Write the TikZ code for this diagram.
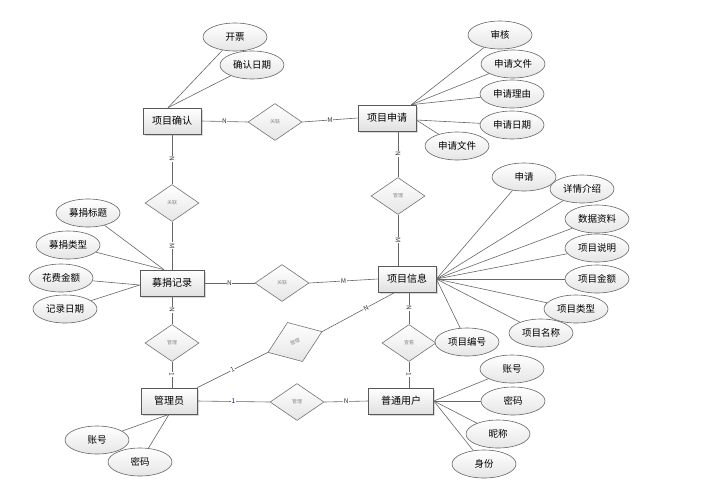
\documentclass[tikz,border=0pt]{standalone}
\usepackage{fontspec}
\setmainfont{Noto Sans CJK SC}
\usetikzlibrary{shapes.geometric,shadows}
\tikzset{
  entity/.style={draw=black!65,line width=0.7pt,top color=white,bottom color=black!12,
    minimum width=58pt,minimum height=26pt,inner sep=1pt,font=\fontsize{10}{10}\selectfont,
    drop shadow={shadow xshift=1.5pt,shadow yshift=-1.5pt,opacity=.3}},
  attr/.style={ellipse,draw=black!60,line width=0.6pt,top color=white,bottom color=black!10,
    minimum width=64pt,minimum height=28pt,inner sep=0pt,font=\fontsize{9.5}{10}\selectfont},
  rel/.style={diamond,draw=black!55,line width=0.6pt,top color=white,bottom color=black!10,
    minimum width=54pt,minimum height=37pt,inner sep=0pt,text=black!45,font=\fontsize{5}{5}\selectfont},
  link/.style={draw=black!60,line width=0.6pt},
  card/.style={fill=white,inner sep=0.6pt,font=\fontsize{6.5}{6.5}\selectfont,text=black!80}
}
\begin{document}
\begin{tikzpicture}[x=1pt,y=-1pt]
\useasboundingbox (0,0) rectangle (715,496);

% entities
\node[entity] (conf) at (172,121) {项目确认};
\node[entity] (apply) at (387,118) {项目申请};
\node[entity,minimum width=64pt] (rec) at (172,283) {募捐记录};
\node[entity] (info) at (407,279) {项目信息};
\node[entity,minimum width=56pt] (admin) at (169,401) {管理员};
\node[entity,minimum width=65pt] (user) at (401,401) {普通用户};

% relations
\node[rel] (r1) at (275,122) {关联};
\node[rel] (r2) at (172,203) {关联};
\node[rel] (r3) at (398,196) {管理};
\node[rel] (r4) at (282,283) {关联};
\node[rel] (r5) at (172,343) {管理};
\node[rel,rotate=21,minimum width=58pt,minimum height=42pt] (r6) at (295,342) {管理};
\node[rel] (r7) at (409,343) {查看};
\node[rel] (r8) at (297,402) {管理};

% attributes
\node[attr] (c1) at (235,37) {开票};
\node[attr] (c2) at (252,65) {确认日期};
\node[attr] (a1) at (500,35) {审核};
\node[attr] (a2) at (513,64) {申请文件};
\node[attr] (a3) at (512,94) {申请理由};
\node[attr] (a4) at (512,125) {申请日期};
\node[attr] (a5) at (457,146) {申请文件};
\node[attr] (i1) at (524,177) {申请};
\node[attr] (i2) at (582,189) {详情介绍};
\node[attr] (i3) at (597,219) {数据资料};
\node[attr] (i4) at (597,248) {项目说明};
\node[attr] (i5) at (597,279) {项目金额};
\node[attr] (i6) at (576,309) {项目类型};
\node[attr] (i7) at (541,333) {项目名称};
\node[attr] (i8) at (467,342) {项目编号};
\node[attr] (e1) at (88,213) {募捐标题};
\node[attr] (e2) at (68,245) {募捐类型};
\node[attr] (e3) at (61,278) {花费金额};
\node[attr] (e4) at (65,309) {记录日期};
\node[attr] (m1) at (97,440) {账号};
\node[attr] (m2) at (140,462) {密码};
\node[attr] (u1) at (512,369) {账号};
\node[attr] (u2) at (513,401) {密码};
\node[attr] (u3) at (498,434) {昵称};
\node[attr] (u4) at (484,464) {身份};

% attribute links
\coordinate (conftop) at ([xshift=-4pt]conf.north);
\foreach \a in {c1,c2} \draw[link] (conftop) -- (\a);
\coordinate (applyne) at ([xshift=-5pt]apply.north east);
\foreach \a in {a1,a2,a3} \draw[link] (applyne) -- (\a);
\coordinate (applye) at ([yshift=-2pt]apply.east);
\foreach \a in {a4,a5} \draw[link] (applye) -- (\a);
\foreach \a in {i1,i2,i3,i4,i5,i6,i7,i8} \draw[link] (info.east) -- (\a);
\coordinate (rectop) at ([xshift=-8pt]rec.north);
\foreach \a in {e1,e2} \draw[link] (rectop) -- (\a);
\coordinate (recw) at ([yshift=-2pt]rec.west);
\foreach \a in {e3,e4} \draw[link] (recw) -- (\a);
\foreach \a in {m1,m2} \draw[link] (admin.south) -- (\a);
\foreach \a in {u1,u2,u3,u4} \draw[link] (user.east) -- (\a);

% relation links
\draw[link] (conf.east) -- node[card]{N} (r1.west);
\draw[link] (r1.east) -- node[card]{M} (apply.west);
\draw[link] (conf.south) -- node[card,sloped]{N} (r2.north);
\draw[link] (r2.south) -- node[card,sloped]{M} (rec.north);
\draw[link] (apply.south-|r3) -- node[card,sloped]{N} (r3.north);
\draw[link] (r3.south) -- node[card,sloped]{M} (info.north-|r3);
\draw[link] (rec.east) -- node[card]{N} (r4.west);
\draw[link] (r4.east) -- node[card]{M} (info.west);
\draw[link] (rec.south) -- node[card,sloped]{N} (r5.north);
\draw[link] (r5.south) -- node[card,sloped]{1} (admin.north-|r5);
\draw[link] (admin.north east) -- node[card,sloped]{1} (r6.west);
\draw[link] (r6.east) -- node[card,sloped,pos=.6]{N} ([xshift=-12pt]info.south);
\draw[link] (info.south-|r7) -- node[card,sloped]{N} (r7.north);
\draw[link] (r7.south) -- node[card,sloped]{1} (user.north-|r7);
\draw[link] (admin.east) -- node[card,text=blue!60!black]{1} (r8.west);
\draw[link] (r8.east) -- node[card]{N} (user.west);
\end{tikzpicture}
\end{document}
